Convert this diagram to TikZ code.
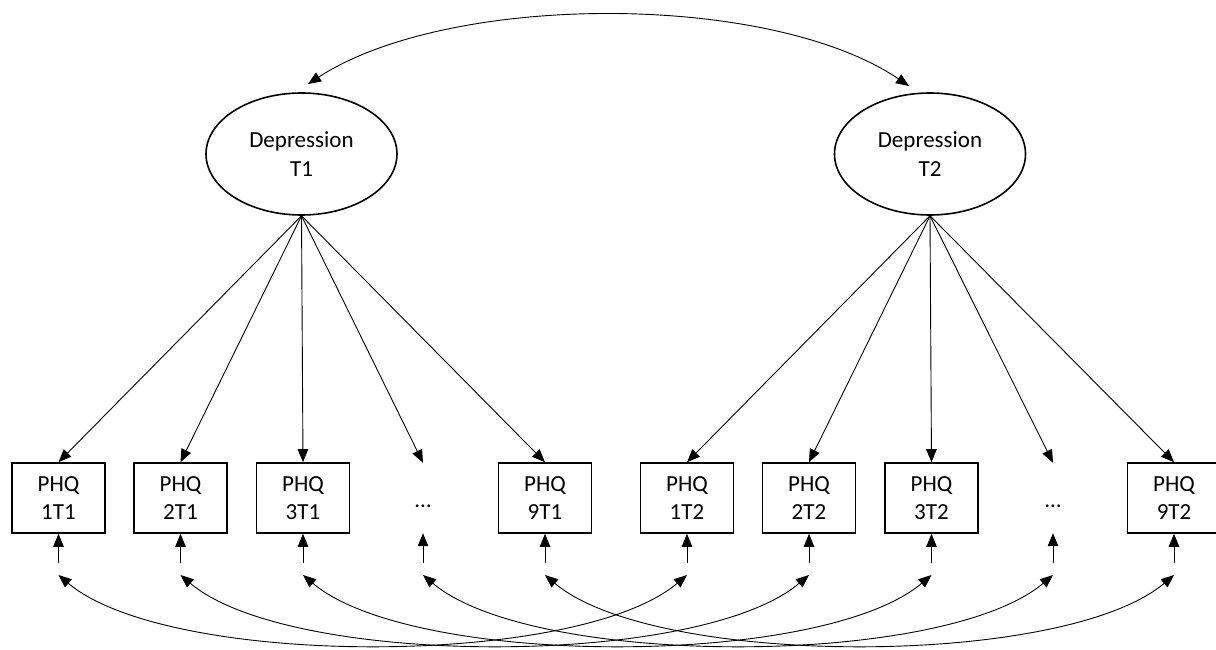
\documentclass[tikz,border=0pt]{standalone}
\usepackage{fontspec}
\setmainfont{Carlito}
\usetikzlibrary{arrows.meta,shapes.geometric}
\tikzset{
  latent/.style={ellipse,draw,line width=1.6pt,minimum width=191pt,minimum height=122pt,inner sep=0pt,align=center,font=\fontsize{23}{28.5}\selectfont},
  obs/.style={rectangle,draw,line width=1.6pt,minimum width=93pt,minimum height=70pt,inner sep=0pt,align=center,font=\fontsize{23}{28.5}\selectfont},
  dotsnode/.style={rectangle,minimum width=93pt,minimum height=70pt,inner sep=0pt,font=\fontsize{23}{28.5}\selectfont},
  conn/.style={line width=0.9pt,-{Triangle[length=13pt,width=10.5pt]}},
  biconn/.style={line width=0.9pt,{Triangle[length=13pt,width=10.5pt]}-{Triangle[length=13pt,width=10.5pt]}}
}
\begin{document}
\begin{tikzpicture}[x=1pt,y=-1pt]
\clip (0,0) rectangle (1216,650);
\fill[white] (0,0) rectangle (1216,650);
\node[latent] (d1) at (301.5,154) {Depression\\T1};
\node[latent] (d2) at (930,154) {Depression\\T2};
\node[obs] (b1) at (58.5,498) {PHQ\\1T1};
\node[obs] (b2) at (180.5,498) {PHQ\\2T1};
\node[obs] (b3) at (303,498) {PHQ\\3T1};
\node[dotsnode] (b4) at (423,498) {\raisebox{-9pt}[0pt][0pt]{…}};
\node[obs] (b5) at (545,498) {PHQ\\9T1};
\node[obs] (b6) at (687,498) {PHQ\\1T2};
\node[obs] (b7) at (809,498) {PHQ\\2T2};
\node[obs] (b8) at (931.5,498) {PHQ\\3T2};
\node[dotsnode] (b9) at (1053,498) {\raisebox{-9pt}[0pt][0pt]{…}};
\node[obs] (b10) at (1174,498) {PHQ\\9T2};
% top covariance
\coordinate (t1) at (308,84);
\coordinate (t2) at (909,86);
\draw[biconn] (t1) .. controls (450,-8) and (770,-8) .. (t2);
% loadings
\foreach \i in {1,...,5} {\draw[conn] (d1.south) -- (b\i.north);}
\foreach \i in {6,...,10} {\draw[conn] (d2.south) -- (b\i.north);}
% residuals
\foreach \i/\x in {1/58.5,2/180.5,3/303,4/423,5/545,6/687,7/809,8/931.5,9/1053,10/1174} {
  \coordinate (e\i) at (\x,563);
  \coordinate (c\i) at (\x,575);
  \draw[conn] (e\i) -- (b\i.south);
}
% residual covariances
\foreach \i/\j in {1/6,2/7,3/8,4/9,5/10} {
  \draw[biconn] (c\i) .. controls ([shift={(110,93)}]c\i) and ([shift={(-110,93)}]c\j) .. (c\j);
}
\end{tikzpicture}
\end{document}
